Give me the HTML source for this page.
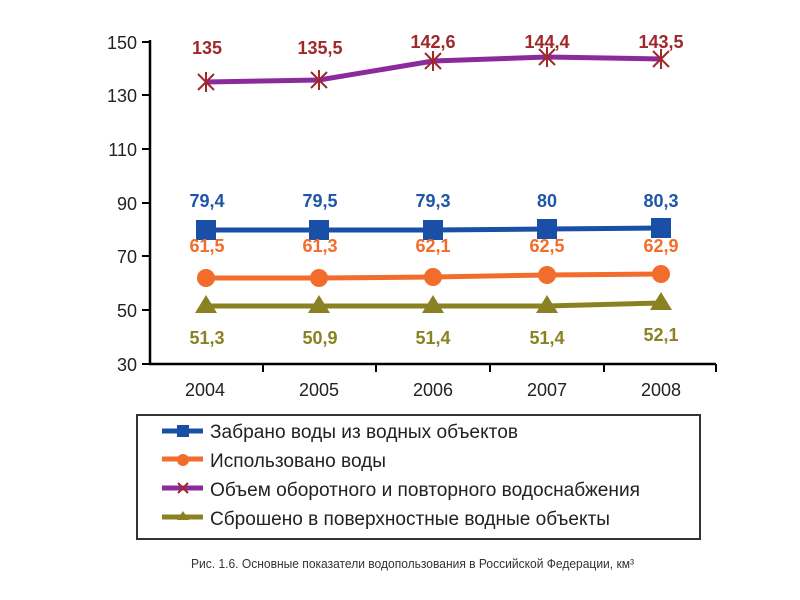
<!DOCTYPE html>
<html><head><meta charset="utf-8"><style>
html,body{margin:0;padding:0;background:#fff;}
svg{display:block;font-family:"Liberation Sans",Arial,sans-serif;}
</style></head><body>
<svg width="800" height="600" viewBox="0 0 800 600">
<g stroke="#000" stroke-width="2.5" fill="none">
<line x1="150" y1="40" x2="150" y2="365"/>
<line x1="149" y1="364" x2="716" y2="364"/>
</g>
<g stroke="#000" stroke-width="2">
<line x1="142" y1="42" x2="150" y2="42"/><line x1="142" y1="95" x2="150" y2="95"/>
<line x1="142" y1="149" x2="150" y2="149"/><line x1="142" y1="203" x2="150" y2="203"/>
<line x1="142" y1="256" x2="150" y2="256"/><line x1="142" y1="310" x2="150" y2="310"/>
<line x1="142" y1="364" x2="150" y2="364"/>
<line x1="263" y1="364" x2="263" y2="372"/><line x1="376" y1="364" x2="376" y2="372"/>
<line x1="490" y1="364" x2="490" y2="372"/><line x1="604" y1="364" x2="604" y2="372"/>
<line x1="716" y1="364" x2="716" y2="372"/>
</g>
<g font-size="18" fill="#222" text-anchor="end">
<text x="137" y="49">150</text><text x="137" y="102">130</text><text x="137" y="156">110</text>
<text x="137" y="210">90</text><text x="137" y="263">70</text><text x="137" y="317">50</text><text x="137" y="371">30</text>
</g>
<g font-size="18" fill="#222" text-anchor="middle">
<text x="205" y="396">2004</text><text x="319" y="396">2005</text><text x="433" y="396">2006</text>
<text x="547" y="396">2007</text><text x="661" y="396">2008</text>
</g>
<!-- purple -->
<polyline points="206,82 319,80 433,61 547,57 661,59" fill="none" stroke="#8b2a9b" stroke-width="5"/>
<g stroke="#a0282a" stroke-width="2">
<path d="M198,74L214,90M214,74L198,90M206,72V92"/>
<path d="M311,72L327,88M327,72L311,88M319,70V90"/>
<path d="M425,53L441,69M441,53L425,69M433,51V71"/>
<path d="M539,49L555,65M555,49L539,65M547,47V67"/>
<path d="M653,51L669,67M669,51L653,67M661,49V69"/>
</g>
<g font-size="18" font-weight="bold" fill="#a0282a" text-anchor="middle">
<text x="207" y="54">135</text><text x="320" y="54">135,5</text><text x="433" y="48">142,6</text>
<text x="547" y="48">144,4</text><text x="661" y="48">143,5</text>
</g>
<!-- blue -->
<polyline points="206,230 319,230 433,230 547,229 661,228" fill="none" stroke="#1a4fa8" stroke-width="5"/>
<g fill="#1a4fa8">
<rect x="196" y="220" width="20" height="20"/><rect x="309" y="220" width="20" height="20"/>
<rect x="423" y="220" width="20" height="20"/><rect x="537" y="219" width="20" height="20"/>
<rect x="651" y="218" width="20" height="20"/>
</g>
<g font-size="18" font-weight="bold" fill="#1e56a8" text-anchor="middle">
<text x="207" y="207">79,4</text><text x="320" y="207">79,5</text><text x="433" y="207">79,3</text>
<text x="547" y="207">80</text><text x="661" y="207">80,3</text>
</g>
<!-- orange -->
<polyline points="206,278 319,278 433,277 547,275 661,274" fill="none" stroke="#f26c2b" stroke-width="5"/>
<g fill="#f26c2b">
<circle cx="206" cy="278" r="9"/><circle cx="319" cy="278" r="9"/><circle cx="433" cy="277" r="9"/>
<circle cx="547" cy="275" r="9"/><circle cx="661" cy="274" r="9"/>
</g>
<g font-size="18" font-weight="bold" fill="#f26c2b" text-anchor="middle">
<text x="207" y="252">61,5</text><text x="320" y="252">61,3</text><text x="433" y="252">62,1</text>
<text x="547" y="252">62,5</text><text x="661" y="252">62,9</text>
</g>
<!-- olive -->
<polyline points="206,306 319,306 433,306 547,306 661,303" fill="none" stroke="#8a8222" stroke-width="5"/>
<g fill="#8a8222">
<path d="M206,295L217,313H195Z"/><path d="M319,295L330,313H308Z"/><path d="M433,295L444,313H422Z"/>
<path d="M547,295L558,313H536Z"/><path d="M661,292L672,310H650Z"/>
</g>
<g font-size="18" font-weight="bold" fill="#8a8222" text-anchor="middle">
<text x="207" y="344">51,3</text><text x="320" y="344">50,9</text><text x="433" y="344">51,4</text>
<text x="547" y="344">51,4</text><text x="661" y="341">52,1</text>
</g>
<!-- legend -->
<rect x="137" y="415" width="563" height="124" fill="none" stroke="#333" stroke-width="2"/>
<g stroke-width="5">
<line x1="162" y1="431" x2="203" y2="431" stroke="#1a4fa8"/>
<line x1="162" y1="459" x2="203" y2="459" stroke="#f26c2b"/>
<line x1="162" y1="488" x2="203" y2="488" stroke="#8b2a9b"/>
<line x1="162" y1="517" x2="203" y2="517" stroke="#8a8222"/>
</g>
<rect x="177" y="425" width="12" height="12" fill="#1a4fa8"/>
<circle cx="183" cy="460" r="6" fill="#f26c2b"/>
<path d="M178,483L188,493M188,483L178,493" stroke="#a0282a" stroke-width="2"/>
<path d="M183,511L189,520H177Z" fill="#8a8222"/>
<g font-size="19" fill="#222">
<text x="210" y="438" textLength="308" lengthAdjust="spacingAndGlyphs">Забрано воды из водных объектов</text>
<text x="210" y="467" textLength="176" lengthAdjust="spacingAndGlyphs">Использовано воды</text>
<text x="210" y="496" textLength="430" lengthAdjust="spacingAndGlyphs">Объем оборотного и повторного водоснабжения</text>
<text x="210" y="525" textLength="400" lengthAdjust="spacingAndGlyphs">Сброшено в поверхностные водные объекты</text>
</g>
<text x="191" y="568" font-size="13" fill="#333" textLength="443" lengthAdjust="spacingAndGlyphs">Рис. 1.6. Основные показатели водопользования в Российской Федерации, км³</text>
</svg>
</body></html>
